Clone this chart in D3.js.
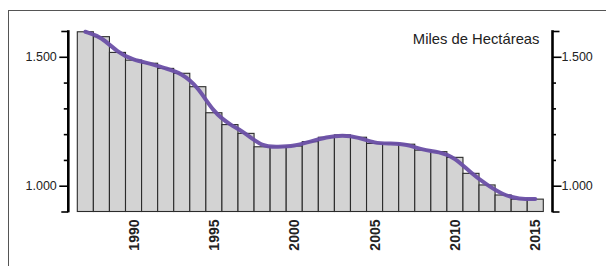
<!DOCTYPE html>
<html><head><meta charset="utf-8">
<script src="https://cdn.jsdelivr.net/npm/d3@7"></script>
<style>
html,body{margin:0;padding:0;background:#fff;}
svg{display:block;font-family:Arial,"Liberation Sans",sans-serif;}
</style></head>
<body>
<svg id="chart" width="606" height="266"></svg>
<script>
const years = [1987,1988,1989,1990,1991,1992,1993,1994,1995,1996,1997,1998,1999,2000,2001,2002,2003,2004,2005,2006,2007,2008,2009,2010,2011,2012,2013,2014,2015];
const hectares = [1597,1578,1517,1487,1475,1455,1436,1384,1283,1237,1203,1151,1151,1154,1171,1188,1197,1188,1164,1164,1161,1138,1132,1110,1048,1003,964,948,948];
const yearLabels = [1990,1995,2000,2005,2010,2015];
const yTicks = [900,1000,1100,1200,1300,1400,1500,1600];
const yLabeled = [1000,1500];
const unitLabel = "Miles de Hectáreas";

const svg = d3.select("#chart");
const locale = d3.formatLocale({decimal:",", thousands:".", grouping:[3], currency:["",""]});
const fmt = locale.format(",d");

const x = d3.scaleBand().domain(years).range([77.3, 543.3]).padding(0);
const y = d3.scaleLinear().domain([900,1600]).range([211.5,31]);

// frame
svg.append("rect").attr("x",8.5).attr("y",10.5).attr("width",700).attr("height",400)
  .attr("fill","none").attr("stroke","#555").attr("stroke-width",1);

// bars
svg.append("g").selectAll("rect").data(years).join("rect")
  .attr("x", d => x(d))
  .attr("y", (d,i) => y(hectares[i]))
  .attr("width", x.bandwidth())
  .attr("height", (d,i) => y(900) - y(hectares[i]))
  .attr("fill","#d3d3d3").attr("stroke","#2b2b2b").attr("stroke-width",1.1);

// line
const line = d3.line().x((d,i) => x(years[i]) + x.bandwidth()/2).y(d => y(d)).curve(d3.curveBasis);
svg.append("path").datum(hectares).attr("d", line)
  .attr("fill","none").attr("stroke","#6a4fa6").attr("stroke-width",4).attr("stroke-linecap","round").attr("opacity",0.95);

function styleAxis(g, dir){
  g.select(".domain").remove();
  g.selectAll(".tick line").attr("stroke","#000").attr("stroke-width",1.6);
  g.selectAll(".tick").filter(d => yLabeled.includes(d)).select("line").attr("x2", dir*9);
  g.selectAll(".tick").filter(d => d===900 || d===1600).select("line").attr("x2", dir*7);
  g.selectAll(".tick text").attr("font-size","12.5px").attr("fill","#222")
    .attr("font-family","Arial, 'Liberation Sans', sans-serif");
}

// left axis
const gl = svg.append("g").attr("transform","translate(68.3,0)")
  .call(d3.axisLeft(y).tickValues(yTicks).tickSize(4.5).tickPadding(7)
    .tickFormat(d => yLabeled.includes(d) ? fmt(d) : ""));
styleAxis(gl, -1);
gl.append("line").attr("x1",0).attr("x2",0).attr("y1",y(1600)-0.8).attr("y2",y(900)+0.8)
  .attr("stroke","#000").attr("stroke-width",2.6);

// right axis
const gr = svg.append("g").attr("transform","translate(552.5,0)")
  .call(d3.axisRight(y).tickValues(yTicks).tickSize(3.5).tickPadding(0)
    .tickFormat(d => yLabeled.includes(d) ? fmt(d) : ""));
styleAxis(gr, 1);
gr.selectAll(".tick text").attr("x", 9);
gr.append("line").attr("x1",0).attr("x2",0).attr("y1",y(1600)-0.8).attr("y2",y(900)+0.8)
  .attr("stroke","#000").attr("stroke-width",2.6);

// year labels
const gx = svg.append("g").attr("transform",`translate(0,${y(900)})`)
  .call(d3.axisBottom(x).tickValues(yearLabels).tickSize(0).tickPadding(0));
gx.select(".domain").remove();
gx.selectAll(".tick text")
  .attr("transform","rotate(-90)")
  .attr("text-anchor","end").attr("dy","0.36em").attr("x",-8).attr("y",0)
  .attr("font-size","14px").attr("font-weight","bold").attr("fill","#222")
  .attr("font-family","Arial, 'Liberation Sans', sans-serif");

// unit label
svg.append("text").attr("x",539.5).attr("y",44).attr("text-anchor","end")
  .attr("font-size","14.8px").attr("fill","#222").text(unitLabel);
</script>
</body></html>
